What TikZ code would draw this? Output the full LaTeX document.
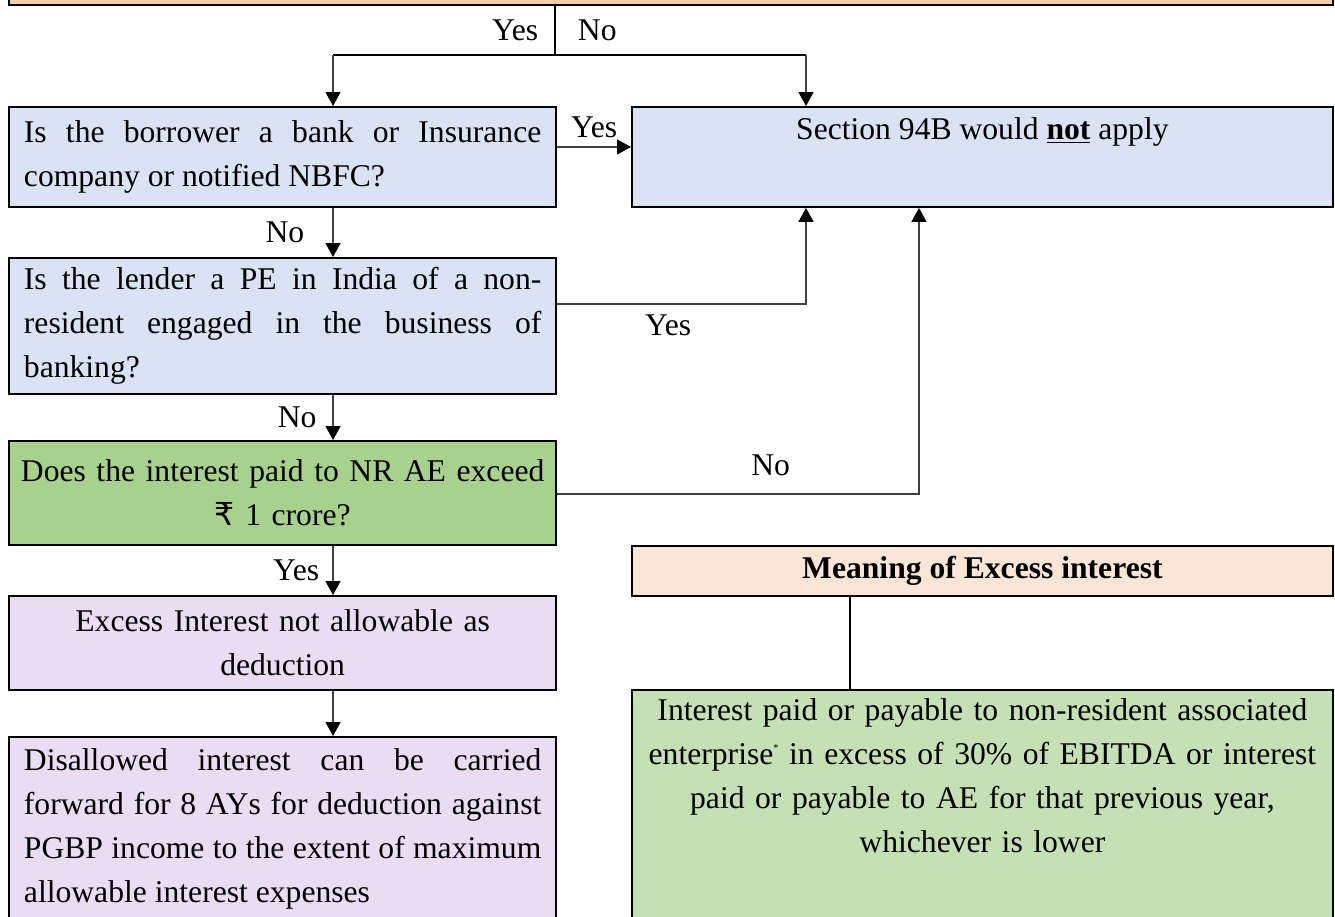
\documentclass[tikz,border=0pt]{standalone}
\usepackage{fontspec}
\setmainfont{Liberation Serif}
\newfontfamily\rupeefont{DejaVu Sans}
\usetikzlibrary{calc,arrows.meta}
\definecolor{topfill}{HTML}{F8CBAD}
\definecolor{askblue}{HTML}{DAE3F3}
\definecolor{testgreen}{HTML}{A9D18E}
\definecolor{ruleviolet}{HTML}{E9DDF3}
\definecolor{headpeach}{HTML}{FBE5D6}
\definecolor{notegreen}{HTML}{C5E0B4}

\begin{document}
\begin{tikzpicture}[
    x=0.02cm, y=-0.02cm,
    every node/.style={font=\fontsize{18}{25}\selectfont},
    box/.style={draw, line width=1.1pt, anchor=north west, text width=10.35cm, inner xsep=0.3cm, inner ysep=0pt},
    widebox/.style={draw, line width=1.1pt, anchor=north west, minimum width=14.02cm},
    flow/.style={draw=black!75, line width=0.8pt, -{Triangle[length=0.28cm,width=0.3cm,color=black]}},
    heavy/.style={line width=1.1pt},
    tag/.style={inner sep=2pt}
  ]
    \useasboundingbox (0,0) rectangle (1335,916);

    % left column
    \node[box, fill=topfill, anchor=south west, text width=25.88cm, minimum height=2cm] (top) at (8,6) {};
    \node[box, fill=askblue, align=justify, minimum height=2cm] (box1) at (8,106) {Is the borrower a bank or Insurance\linebreak company or notified NBFC?};
    \node[box, fill=askblue, align=justify, minimum height=2.72cm] (box2) at (8,257) {Is the lender a PE in India of a non-\linebreak resident engaged in the business of\linebreak banking?};
    \node[box, fill=testgreen, align=center, text width=10.75cm, inner xsep=0.1cm, minimum height=2.08cm] (box3) at (8,440) {Does the interest paid to NR AE exceed\\{\rupeefont ₹} 1 crore?};
    \node[box, fill=ruleviolet, align=center, minimum height=1.88cm] (box4) at (8,595) {Excess Interest not allowable as\\deduction};
    \node[box, fill=ruleviolet, align=justify, minimum height=3.68cm] (box5) at (8,736) {Disallowed interest can be carried\linebreak forward for 8 AYs for deduction against\linebreak PGBP income to the extent of maximum\linebreak allowable interest expenses};

    % right column
    \node[widebox, fill=askblue, inner ysep=0pt, text height=0.66cm, text depth=1.34cm] (sec) at (631,106) {Section 94B would \underline{\textbf{not}} apply};
    \node[widebox, fill=headpeach, minimum height=1cm] (meaning) at (631,545) {\textbf{Meaning of Excess interest}};
    \node[widebox, fill=notegreen, text width=13.42cm, inner xsep=0.3cm, inner ysep=0pt, align=center, text height=0.62cm, text depth=4cm] (green) at (631,689) {Interest paid or payable to non-resident associated\\enterprise\raisebox{0.9ex}{\fontsize{6}{6}\selectfont *} in excess of 30\% of EBITDA or interest\\paid or payable to AE for that previous year,\\whichever is lower};

    \coordinate (split) at (555,55);
    \coordinate (jl) at (333,55);
    \coordinate (jr) at (806,55);
    \coordinate (rise) at (919,494);

    \draw[heavy] (split |- top.south) -- node[tag, left=7pt]{Yes} node[tag, right=10.5pt]{No} (split);
    \draw[heavy] (jl) -- (jr);
    \draw[flow] (jl) -- (jl |- box1.north);
    \draw[flow] (jr) -- (jr |- sec.north);

    \draw[flow] ([yshift=0.2cm]box1.east) -- node[tag, above=3pt]{Yes} ([yshift=0.2cm]box1.east -| sec.west);
    \draw[flow] (box1.south -| jl) -- node[tag, left=14pt]{No} (box2.north -| jl);
    \draw[flow] ([yshift=0.44cm]box2.east) -| node[tag, pos=0.223, below=4pt]{Yes} (jr |- sec.south);
    \draw[flow] (box2.south -| jl) -- node[tag, left=7pt]{No} (box3.north -| jl);
    \draw[flow] (box3.east |- rise) -- node[tag, pos=0.59, above=8pt]{No} (rise) -- (rise |- sec.south);
    \draw[flow] (box3.south -| jl) -- node[tag, left=5.5pt]{Yes} (box4.north -| jl);
    \draw[flow] (box4.south -| jl) -- (box5.north -| jl);

    \draw[heavy] ([xshift=-2.65cm]meaning.south) -- ([xshift=-2.65cm]green.north);

  \end{tikzpicture}
\end{document}
